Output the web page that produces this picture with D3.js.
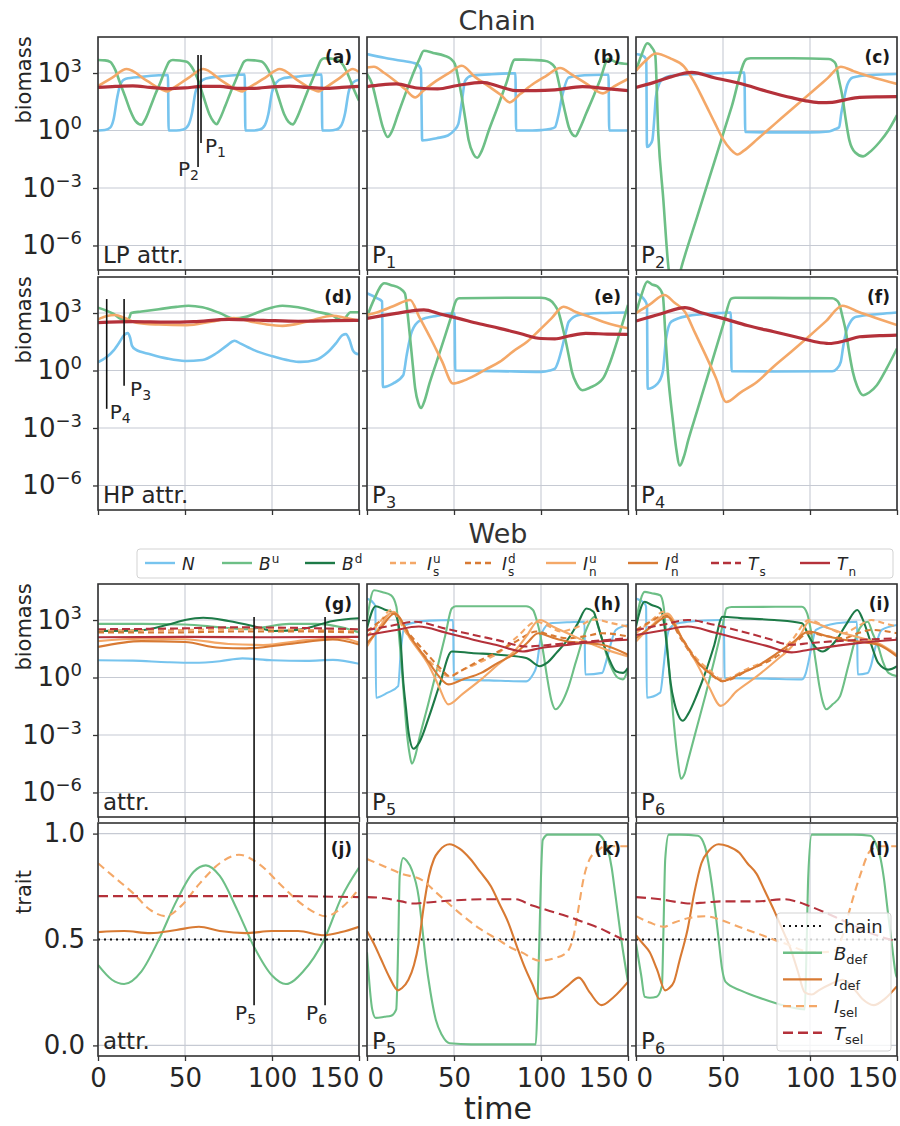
<!DOCTYPE html>
<html><head><meta charset="utf-8">
<script src="https://cdn.jsdelivr.net/npm/d3@7"></script>
<style>body{margin:0;background:#fff} svg{display:block;font-family:"DejaVu Sans",sans-serif}</style>
</head><body><svg id="c" width="900" height="1126"></svg>
<script>
// ---------- DATA (time, log10 biomass) ----------
const timeTicks = [0, 50, 100, 150];
const biomassTicks = [1e-6, 1e-3, 1e0, 1e3];
const traitTicks = [0, 0.5, 1.0];
const chainTrait = 0.5;

// (a) chain, LP attractor
const aN = [[0,0],[4,0.03],[7,0.15],[9,0.6],[11,1.7],[13,2.45],[16,2.7],[25,2.8],[35,2.88],[40.2,2.9],[40.6,0],[45,0],[49,0.05],[52,0.3],[54,0.9],[56,2.0],[58.5,2.5],[62,2.72],[70,2.82],[80,2.9],[84.3,2.92],[84.7,0],[89,0],[93,0.05],[96,0.3],[98,0.9],[100,2.0],[102.5,2.5],[106,2.72],[115,2.82],[124,2.9],[128.5,2.92],[128.9,0],[133,0],[137,0.05],[140,0.3],[142,0.9],[144,2.0],[146.5,2.5],[150,2.65]];
const aB = [[0,3.68],[4,3.66],[7,3.58],[10,3.15],[12.6,2.5],[15.5,1.8],[18.4,1.07],[21.5,0.5],[25,0.3],[27,0.55],[30,1.2],[33,1.9],[36,2.55],[39,3.25],[41,3.6],[43,3.68],[47,3.65],[51,3.59],[54,3.3],[57,2.75],[60.5,1.8],[64,0.85],[66.5,0.45],[68.2,0.33],[70,0.6],[73,1.25],[76,1.95],[79,2.6],[82,3.25],[84,3.6],[86,3.68],[90,3.66],[94,3.6],[97,3.3],[100,2.75],[103.5,1.8],[107,0.85],[109.5,0.45],[112,0.32],[114,0.6],[117,1.25],[120,1.95],[123,2.6],[126,3.25],[128,3.65],[130,3.77],[134,3.75],[138,3.68],[141,3.4],[144,2.85],[147,2.15],[150,1.55]];
const aI = [[0,2.32],[8,2.75],[16.5,3.21],[28,2.6],[37,2.12],[40,2.04],[43,2.2],[52,2.75],[60.5,3.21],[71,2.6],[80,2.12],[83,2.04],[86,2.2],[96,2.75],[104.5,3.21],[115,2.6],[124,2.12],[127,2.04],[130,2.2],[139,2.75],[146.5,3.21],[150,3.05]];
const aT = [[0,2.25],[10,2.3],[20,2.33],[30,2.25],[40,2.18],[50,2.22],[60,2.3],[70,2.3],[80,2.2],[90,2.2],[100,2.28],[110,2.32],[120,2.25],[130,2.2],[140,2.25],[150,2.3]];

// (b) chain, P1
const bN = [[0,3.99],[10,3.8],[20,3.64],[28.7,3.47],[31,3.2],[31.7,-0.52],[40,-0.4],[46.5,-0.26],[50,0.0],[52.5,0.35],[54.5,1.5],[56.4,2.6],[60,2.86],[70,2.93],[82,2.98],[85.3,2.98],[85.7,0],[95,0],[100,0.02],[105,0.08],[108,0.17],[110,0.8],[112,1.73],[116,2.77],[125,2.88],[135,2.91],[138.8,2.91],[139.2,0],[150,0]];
const bB = [[0,2.95],[3,2.4],[6,1.3],[9,0.2],[11.9,-0.34],[14,-0.1],[18,0.9],[22,1.9],[26,2.85],[30,3.7],[32.7,4.16],[38,4.05],[44.5,3.9],[48,3.75],[50.5,3.47],[52.5,2.7],[54.5,1.73],[56.5,0.6],[58.4,-0.5],[61,-1.2],[63.4,-1.42],[66,-1.05],[70,0.0],[75,1.2],[80,2.45],[85,3.7],[90,3.7],[96,3.68],[102,3.64],[105,3.55],[108,3.3],[110,2.6],[112,1.73],[114,0.9],[116,0.17],[118,-0.2],[119.8,-0.3],[122,0.05],[126,0.9],[130,1.75],[134,2.65],[138.6,3.73],[143.6,3.55],[150,3.47]];
const bI = [[0,3.29],[4,3.33],[10,3.0],[16,2.6],[22,2.15],[27.7,1.73],[32,2.05],[40,2.6],[47,3.0],[54.5,3.38],[62,2.8],[70,2.3],[77,1.85],[82,1.47],[88,1.9],[95,2.4],[103,2.85],[111,3.26],[118,2.9],[126,2.45],[135.6,1.94],[142,2.3],[150,2.69]];
const bT = [[0,2.29],[8,2.38],[16.8,2.43],[28.7,2.22],[40.6,2.17],[52,2.35],[66.3,2.51],[76,2.3],[86,2.08],[97,2.08],[108,2.12],[123.8,2.29],[136,2.2],[150,2.08]];

// (c) chain, P2
const cN = [[0,3.99],[4,3.9],[5.9,3.7],[6.3,-0.86],[8,-0.75],[9.4,-0.5],[10.5,0.6],[11.4,1.73],[12.8,2.3],[14.4,2.6],[20,2.85],[35,2.95],[50,3.0],[62.3,3.03],[62.8,-0.08],[80,-0.1],[100,-0.1],[110.8,-0.05],[114,0.05],[116.7,0.17],[118,0.9],[119.7,1.73],[121.5,2.4],[124.6,2.77],[135,2.9],[150,2.95]];
const cB = [[0,3.12],[3,3.9],[6.5,4.55],[9,4.35],[11,4.0],[12.8,-0.15],[15.7,-3.6],[18.6,-7.1],[22,-8.5],[26.2,-7.1],[35,-4.55],[45,-1.65],[55,1.25],[63.6,3.73],[66,3.77],[90,3.77],[110.8,3.73],[113,3.65],[114.8,3.47],[116.5,2.7],[118.7,1.73],[120.5,0.6],[122.6,-0.5],[126,-1.15],[130.5,-1.35],[134,-1.15],[140,-0.6],[145,0.0],[150,0.8]];
const cI = [[0,3.12],[5,3.6],[11.4,4.02],[20,3.75],[27.5,3.35],[33,2.6],[39,1.55],[45,0.45],[50,-0.45],[54,-0.95],[58.5,-1.25],[62,-1.05],[70,-0.43],[80,0.36],[90,1.15],[100,1.93],[110,2.72],[117.7,3.33],[125,3.1],[135,2.8],[150,2.43]];
const cT = [[0,2.25],[10,2.5],[20,2.8],[32,3.03],[45,2.75],[60,2.45],[75,2.05],[90,1.7],[99,1.53],[106,1.45],[112.8,1.47],[120,1.6],[128.5,1.73],[140,1.76],[150,1.77]];

// (d) chain, HP attractor
const dN = [[0,0.43],[5,0.7],[9,1.05],[12.5,1.5],[15,1.85],[17,1.95],[18.5,1.7],[19.5,1.3],[21.5,1.1],[30,0.85],[40,0.62],[50,0.5],[60,0.55],[68,0.9],[74,1.3],[78.5,1.55],[82,1.4],[90,1.05],[100,0.75],[110,0.52],[116.5,0.45],[125,0.55],[132,0.95],[137,1.45],[140.5,1.85],[142.5,1.9],[144.5,1.6],[146.5,1.05],[148,0.9],[150,0.85]];
const dB = [[0,3.28],[5,3.12],[9,2.95],[13,2.7],[16,2.62],[18,2.75],[19,3.0],[25,3.08],[35,3.2],[45,3.32],[52,3.38],[60,3.3],[70,3.0],[78,2.72],[85,2.8],[95,3.15],[106,3.38],[115,3.3],[125,3.08],[135,2.85],[139,2.65],[141,2.62],[143,2.85],[145,3.04],[150,3.04]];
const dI = [[0,2.67],[5,2.85],[10,2.9],[15,2.75],[22,2.5],[35,2.4],[51,2.36],[65,2.55],[78,2.74],[88,2.55],[97,2.4],[106,2.33],[120,2.55],[135,2.86],[142,2.75],[150,2.6]];
const dT = [[0,2.5],[20,2.55],[40,2.52],[55,2.55],[75,2.67],[95,2.62],[115,2.57],[135,2.6],[150,2.62]];

// (e) chain, P3
const eN = [[0,4.03],[5.9,3.77],[8.7,3.6],[9.1,-0.86],[14.9,-0.68],[20.8,-0.25],[22.8,0.8],[25.7,2.02],[30.7,2.63],[40,2.85],[50.3,2.98],[50.7,0],[75,-0.03],[100,-0.07],[105,0.0],[108,0.1],[110,0.5],[112,1.15],[114,1.9],[116,2.55],[121.8,2.9],[135,3.0],[150,3.03]];
const eB = [[0,2.81],[4,3.7],[9.9,4.55],[14,4.45],[18.8,4.29],[21.8,4.03],[23.3,3.0],[24.8,1.67],[26.3,0.3],[27.7,-0.94],[29.5,-1.7],[31.1,-1.96],[33,-1.6],[36,-0.65],[40,0.45],[45,1.85],[48,2.7],[51.5,3.7],[53,3.77],[80,3.8],[100,3.8],[105,3.68],[108,3.4],[110,3.07],[112,2.4],[113.9,1.67],[115.9,0.8],[117.8,-0.07],[120.5,-0.7],[123.8,-1.03],[128,-0.9],[135.6,-0.42],[140,0.5],[145,1.9],[150,3.42]];
const eI = [[0,2.9],[6.9,3.07],[15,3.35],[24.8,3.68],[30,2.8],[36.6,1.67],[43,0.5],[49.5,-0.68],[55,-0.55],[60.4,-0.33],[68,0.05],[76.2,0.45],[84,1.0],[92,1.5],[99,2.1],[106,2.72],[112.9,3.33],[120,3.05],[128,2.8],[135.6,2.55],[143,2.35],[150,2.2]];
const eT = [[0,2.72],[8,2.85],[16.8,2.98],[25,3.1],[32.7,3.16],[42,2.95],[52.5,2.72],[64,2.45],[76.2,2.2],[88,1.93],[100,1.67],[108,1.65],[116,1.8],[125.7,1.94],[138,1.9],[150,1.88]];

// (f) chain, P4
const fN = [[0,4.03],[5.5,3.6],[6.3,3.4],[6.7,-0.95],[12.4,-0.68],[15.4,-0.07],[17.3,1.67],[20.3,2.55],[30,2.85],[45,2.98],[54.5,3.03],[54.9,-0.04],[80,-0.05],[112.8,-0.04],[115.5,0.1],[117.7,0.45],[119,1.2],[120.7,2.0],[123,2.5],[126.6,2.8],[140,2.95],[150,3.03]];
const fB = [[0,3.0],[3,3.9],[6.5,4.64],[9,4.5],[12.4,4.38],[15.4,3.94],[16.8,2.0],[18.3,-0.07],[21.3,-2.69],[23,-4.0],[25.2,-4.96],[27.5,-4.5],[30,-3.65],[35,-2.15],[40,-0.65],[45,0.85],[50,2.35],[54.7,3.75],[57,3.8],[90,3.78],[112.8,3.77],[114.8,3.7],[116.7,3.5],[118.7,2.8],[120.7,2.0],[122.6,0.9],[124.6,-0.07],[127,-0.8],[130.5,-1.29],[134,-1.15],[138.4,-0.77],[144,0.1],[150,1.15]];
const fI = [[0,3.0],[8,3.45],[16.3,3.94],[22,3.55],[28.1,3.07],[34,1.95],[40,0.8],[46,-0.4],[51.8,-1.64],[60,-1.15],[69.5,-0.6],[79,0.2],[89.2,0.98],[99,1.75],[108.9,2.55],[118.7,3.38],[128,3.05],[140,2.68],[150,2.37]];
const fT = [[0,2.58],[14,2.95],[28.1,3.28],[38,3.0],[49.8,2.72],[64,2.35],[79.3,2.02],[92,1.75],[103,1.5],[110.8,1.41],[120,1.55],[128.5,1.76],[140,1.82],[150,1.85]];

// (g) web, attractor
const gN = [[0,0.9],[20,0.88],[40,0.8],[55,0.77],[70,0.85],[83,1.0],[100,0.9],[120,0.87],[135,0.92],[150,0.72]];
const gBu = [[0,2.8],[25,2.8],[50,2.77],[70,2.62],[85,2.52],[95,2.62],[110,2.8],[125,2.8],[140,2.62],[150,2.35]];
const gBd = [[0,2.43],[24,2.46],[40,2.75],[50,3.0],[60.5,3.12],[75,2.95],[89,2.69],[101,2.43],[116,2.5],[135,2.95],[150,3.09]];
const gIsu = [[0,2.45],[30,2.45],[60,2.5],[90,2.52],[120,2.48],[150,2.42]];
const gIsd = [[0,2.35],[40,2.35],[80,2.4],[120,2.4],[150,2.35]];
const gInu = [[0,1.9],[25,2.02],[50,2.0],[75,1.75],[95,1.7],[120,1.95],[140,2.05],[150,1.82]];
const gInd = [[0,1.6],[25,1.9],[50,1.85],[70,1.55],[85,1.52],[110,1.75],[135,1.98],[150,1.72]];
const gTs = [[0,2.52],[40,2.55],[80,2.62],[120,2.58],[150,2.52]];
const gTn = [[0,2.1],[50,2.12],[100,2.1],[150,2.12]];

// (h) web, P5
const hN = [[0,4.12],[4,3.86],[4.8,3.7],[5.2,-1.05],[11.9,-0.79],[17.9,-0.45],[19.5,1.45],[21.9,2.74],[35.8,2.97],[49.5,3.0],[49.9,-0.1],[70,-0.15],[91.5,-0.2],[95,0.1],[97.4,0.59],[100.4,2.31],[105.4,2.83],[115,2.88],[125,2.91],[125.4,0.16],[135.2,0.24],[137,0.7],[139.2,1.45],[143,2.48],[150,2.74]];
const hBu = [[0,3.0],[4,4.55],[9,4.45],[13.9,4.29],[16.9,3.69],[18.4,2.2],[19.9,0.59],[21.4,-1.2],[22.9,-2.86],[24.5,-4.0],[25.8,-4.5],[28,-4.0],[30,-3.2],[35,-1.45],[40,0.35],[45,2.2],[48.7,3.6],[51,3.72],[80,3.72],[91.5,3.72],[95.4,3.52],[97.5,3.0],[99.4,2.31],[101.5,1.2],[103.4,0.07],[106,-1.2],[108.3,-1.66],[112,-1.3],[115.3,-0.62],[120,0.8],[125.2,2.31],[128,2.9],[131,3.17],[133,2.6],[135.2,1.97],[138,1.1],[141,0.41],[144,0.0],[147.1,-0.1],[150,0.41]];
const hBd = [[0,2.57],[5,3.72],[10,3.55],[15.9,3.34],[18.9,2.31],[20.9,-0.28],[22.4,-1.6],[23.9,-2.86],[26.8,-3.72],[30,-3.4],[35.8,-2.0],[42,-0.3],[48.7,1.36],[60,1.28],[75.5,1.19],[91.5,1.02],[99.4,0.59],[103.4,0.76],[109,1.3],[115.3,1.97],[121,2.8],[126.2,3.6],[130.2,3.43],[132.5,2.8],[135.2,1.97],[139,1.0],[143,0.33],[147.1,0.24],[150,0.5]];
const hIsu = [[0,2.14],[7,2.85],[13.9,3.52],[22,2.4],[31.8,1.28],[40,0.5],[46.7,0.07],[55,0.4],[65,0.8],[75.5,1.28],[86,2.1],[97.4,2.91],[104,2.7],[111.3,2.4],[120,2.6],[131.2,3.03],[140,2.85],[150,2.66]];
const hIsd = [[0,2.4],[7,2.9],[14.9,3.34],[25,2.2],[35.8,1.1],[42,0.5],[47.7,0.07],[55,0.4],[65,0.9],[75.5,1.36],[86,1.9],[97.4,2.4],[106,2.2],[115.3,2.05],[125,2.15],[135.2,2.31],[150,2.14]];
const hInu = [[0,1.62],[7,2.6],[14.9,3.43],[25,2.0],[35.8,0.59],[41,-0.4],[46.7,-1.4],[55,-0.85],[65.6,-0.1],[75,0.65],[85.5,1.45],[92,2.2],[97.4,2.91],[99.4,3.0],[107,2.65],[115.3,2.31],[125,1.9],[135.2,1.53],[150,1.1]];
const hInd = [[0,1.79],[8,2.6],[15.9,3.34],[25,2.1],[35.8,0.76],[41,0.1],[46.7,-0.36],[55,-0.1],[65.6,0.24],[75,0.75],[85.5,1.28],[92,1.8],[98.4,2.31],[106,2.1],[115.3,1.88],[125,1.8],[135.2,1.71],[150,1.19]];
const hTs = [[0,2.48],[14,2.7],[27.8,2.91],[45,2.55],[60,2.25],[75,1.95],[91.5,1.62],[110,1.75],[130,1.9],[150,2.05]];
const hTn = [[0,2.22],[15,2.45],[29.8,2.66],[45,2.35],[60,2.0],[75,1.68],[89.5,1.36],[99.4,1.53],[115,1.7],[130,1.85],[150,1.97]];

// (i) web, P6
const iN = [[0,4.12],[5,3.86],[5.8,3.7],[6.2,-1.05],[13.9,-0.79],[15.9,0.59],[17.2,1.7],[18.9,2.48],[23,2.8],[29.8,2.91],[48.7,3.0],[50.5,3.0],[50.9,-0.02],[75,-0.06],[95.4,-0.1],[97.5,0.2],[99.4,0.93],[101.5,1.9],[103.4,2.48],[115.3,2.83],[127,2.91],[127.4,0.16],[133.2,0.24],[135,0.6],[137.2,1.45],[141.2,2.48],[150,2.74]];
const iBu = [[0,3.0],[5,4.47],[9,4.4],[13.9,4.29],[15.9,3.69],[17.4,2.2],[18.9,0.59],[20.4,-1.0],[21.9,-2.52],[24,-4.3],[25.8,-5.28],[28,-5.0],[30,-4.3],[35,-2.6],[40,-0.9],[45,0.9],[50,2.8],[52,3.6],[55,3.68],[80,3.69],[95.4,3.69],[98.4,3.34],[100,2.7],[101.4,1.97],[103.4,0.75],[105.4,-0.45],[107.4,-1.3],[109.3,-1.66],[113,-1.4],[117.3,-0.97],[122,0.6],[127.2,2.31],[130,2.75],[133.2,2.91],[136,2.3],[139.2,1.62],[142,0.8],[145.1,0.24],[150,0.07]];
const iBd = [[0,2.66],[5,3.95],[9,3.78],[13.9,3.6],[16.9,2.31],[18.4,1.0],[19.9,-0.28],[22,-1.3],[24,-1.9],[26.8,-2.26],[30,-1.9],[35,-0.9],[39.8,0.24],[45,1.7],[49.7,3.17],[60,3.1],[79.5,3.0],[95.4,2.83],[99.4,2.14],[103,1.6],[107.4,1.36],[111,1.55],[115.3,1.97],[121,2.8],[127.2,3.52],[130,3.1],[133.2,2.31],[136,1.5],[139.2,0.76],[145.1,0.41],[150,0.59]];
const iIsu = [[0,2.31],[8,2.9],[15.9,3.43],[25,2.25],[33.8,1.1],[42,0.4],[49.7,-0.1],[65,0.5],[79.5,1.1],[90,2.0],[99.4,3.0],[110,2.6],[119.3,2.31],[127,2.65],[135.2,3.0],[142,2.85],[150,2.66]];
const iIsd = [[0,2.48],[8,2.9],[16.9,3.26],[26,2.0],[34.8,0.84],[42,0.25],[49.7,-0.19],[65,0.4],[79.5,1.02],[90,1.7],[99.4,2.31],[110,2.15],[119.3,2.05],[127,2.3],[135.2,2.48],[150,2.31]];
const iInu = [[0,1.88],[9,2.7],[17.9,3.34],[27,1.95],[35.8,0.59],[42,-0.5],[48.7,-1.48],[58,-0.7],[69.6,0.07],[80,0.85],[89.5,1.62],[95,2.3],[99.4,2.91],[110,2.6],[119.3,2.31],[130,2.05],[139.2,1.79],[150,1.19]];
const iInd = [[0,2.05],[9,2.65],[17.9,3.17],[27,1.95],[35.8,0.76],[43,0.2],[49.7,-0.19],[60,0.2],[69.6,0.59],[80,1.2],[89.5,1.79],[99.4,2.4],[110,2.15],[119.3,1.97],[130,1.85],[139.2,1.71],[150,1.1]];
const iTs = [[0,2.48],[15,2.75],[29.8,3.0],[45,2.75],[60,2.42],[75,2.05],[89.5,1.71],[99.4,1.79],[115,1.9],[130,1.97],[150,2.05]];
const iTn = [[0,2.22],[15,2.45],[29.8,2.66],[45,2.35],[60,2.0],[75,1.65],[89.5,1.31],[99.4,1.45],[115,1.65],[130,1.82],[150,1.97]];

// (j) traits, attractor
const jBdef = [[0,0.38],[8,0.31],[15,0.29],[25,0.35],[35,0.5],[45,0.68],[55,0.82],[62,0.85],[70,0.8],[80,0.64],[90,0.46],[100,0.33],[108,0.29],[118,0.35],[130,0.5],[140,0.7],[150,0.84]];
const jIdef = [[0,0.535],[15,0.54],[30,0.53],[45,0.545],[58,0.56],[70,0.54],[85,0.53],[100,0.54],[115,0.54],[130,0.52],[140,0.535],[150,0.56]];
const jIsel = [[0,0.86],[10,0.79],[20,0.72],[30,0.64],[39,0.61],[48,0.66],[58,0.76],[70,0.86],[81,0.9],[92,0.86],[106,0.75],[120,0.65],[131,0.61],[140,0.65],[150,0.74]];
const jTsel = [[0,0.705],[50,0.705],[100,0.705],[150,0.70]];

// (k) traits, P5
const kBdef = [[0,0.44],[3,0.17],[5,0.13],[10,0.135],[13.9,0.14],[16.8,0.17],[18,0.5],[18.8,0.8],[20.8,0.885],[23,0.87],[25.7,0.83],[29.7,0.7],[31.7,0.56],[33.7,0.41],[36.5,0.25],[39.6,0.12],[43,0.05],[47.5,0.01],[60,0.005],[80,0.005],[97,0.005],[98,0.2],[99,0.48],[100,0.8],[101,0.97],[104,0.995],[120,0.995],[132.7,0.995],[136,0.97],[138.6,0.92],[140.6,0.84],[142.6,0.72],[146.5,0.48],[150,0.3]];
const kIdef = [[0,0.54],[4,0.48],[7.9,0.41],[13,0.32],[17.8,0.26],[20,0.27],[23.8,0.31],[27,0.38],[29.7,0.48],[32.5,0.65],[35.6,0.8],[38.5,0.88],[41.6,0.92],[47.5,0.95],[53,0.93],[59.4,0.88],[65,0.82],[71.3,0.75],[76,0.67],[81.2,0.58],[86,0.47],[91.1,0.36],[95,0.29],[99,0.22],[103,0.225],[107,0.23],[115,0.28],[121.8,0.32],[128,0.25],[134.7,0.19],[142,0.23],[150,0.3]];
const kIsel = [[0,0.88],[10,0.845],[20,0.81],[31.7,0.78],[40,0.72],[55.4,0.61],[65,0.55],[75.2,0.5],[83,0.46],[91.1,0.43],[95,0.41],[99,0.40],[107,0.41],[114.9,0.44],[117,0.47],[118.8,0.52],[121,0.62],[124.8,0.8],[128,0.88],[132.7,0.92],[136.6,0.94],[150,0.94]];
const kTsel = [[0,0.70],[10,0.695],[19.8,0.68],[26,0.67],[35,0.675],[50,0.685],[70,0.69],[85.1,0.69],[95,0.66],[105,0.635],[114.9,0.61],[125,0.58],[134.7,0.55],[142,0.52],[150,0.49]];

// (l) traits, P6
const lBdef = [[0,0.48],[3,0.33],[5,0.23],[8,0.225],[11.9,0.23],[14.9,0.28],[15.8,0.55],[16.8,0.88],[18.8,0.995],[25,0.995],[35.6,0.99],[39.6,0.94],[42.5,0.82],[45.5,0.64],[47.5,0.5],[49.5,0.36],[51.5,0.30],[60,0.26],[69.3,0.23],[80,0.2],[89.1,0.18],[97,0.17],[98,0.45],[99,0.8],[101,0.995],[110,0.995],[125,0.995],[134.7,0.99],[138,0.95],[140.6,0.88],[142.6,0.78],[144.6,0.64],[147,0.48],[149.5,0.33],[150,0.32]];
const lIdef = [[0,0.52],[4,0.48],[7.9,0.44],[12,0.36],[16.8,0.26],[19,0.27],[21.8,0.30],[25,0.4],[29.7,0.55],[33.5,0.72],[37.6,0.86],[42,0.92],[47.5,0.95],[53,0.94],[59.4,0.91],[64,0.86],[69.3,0.81],[74,0.73],[79.2,0.64],[84,0.55],[89.1,0.45],[93,0.35],[97,0.25],[101,0.24],[105,0.26],[112,0.29],[118.8,0.31],[125,0.27],[130,0.22],[136.6,0.19],[143,0.22],[150,0.28]];
const lIsel = [[0,0.61],[8,0.58],[15.8,0.56],[22,0.58],[29.7,0.60],[39.6,0.61],[49.5,0.59],[59,0.56],[69.3,0.53],[79,0.5],[89.1,0.47],[95,0.45],[99,0.44],[107,0.44],[114.9,0.45],[118.8,0.52],[122.8,0.64],[128.7,0.8],[134.7,0.92],[140,0.94],[150,0.94]];
const lTsel = [[0,0.70],[13.9,0.69],[25,0.675],[29.7,0.67],[40,0.675],[49.5,0.68],[69.3,0.68],[85.1,0.69],[92,0.68],[99,0.66],[108,0.63],[118.8,0.59],[127,0.56],[134.7,0.53],[142,0.51],[150,0.49]];

// marker lines: [time, top value, bottom value]
const markP1 = [59.2, 3.94, -0.65];
const markP2 = [57.5, 3.94, -1.9];
const markP3 = [15, 3.73, -0.8];
const markP4 = [5, 3.73, -2.0];
const markP5 = [89.7, 3.16, 0.19];
const markP6 = [130.5, 3.16, 0.19];

// ---------- STYLES ----------
const ST = {
  N:   {color:'#77c4ee'},
  Bu:  {color:'#6dbf86'},
  Bd:  {color:'#1d7a47'},
  Isu: {color:'#f4a868', dash:'6,4'},
  Isd: {color:'#d87a33', dash:'6,4'},
  Inu: {color:'#f4a868'},
  Ind: {color:'#d87a33'},
  Ts:  {color:'#b4313a', dash:'8,4'},
  Tn:  {color:'#b4313a'},
  chain:{color:'#111', dash:'2,4'},
  Bdef:{color:'#6dbf86'},
  Idef:{color:'#d87a33'},
  Isel:{color:'#f4a868', dash:'8,5'},
  Tsel:{color:'#b4313a', dash:'10,5'}
};

const svg = d3.select('#c');
const FONT = '"DejaVu Sans", sans-serif';
const colX = [98, 367, 636], colW = 261;
const rowY = [37, 277, 584, 823], rowH = 233;
const logDomain = [Math.pow(10,-7.28), Math.pow(10,4.88)];
const traitDomain = [-0.05, 1.05];

const panels = [
 {r:0,c:0,kind:'log',letter:'(a)',lab:['LP attr.'],w:2.6,series:[['N',aN],['Bu',aB],['Inu',aI],['Tn',aT,3.2]]},
 {r:0,c:1,kind:'log',letter:'(b)',lab:['P','1'],w:2.6,series:[['N',bN],['Bu',bB],['Inu',bI],['Tn',bT,3.2]]},
 {r:0,c:2,kind:'log',letter:'(c)',lab:['P','2'],w:2.6,series:[['N',cN],['Bu',cB],['Inu',cI],['Tn',cT,3.2]]},
 {r:1,c:0,kind:'log',letter:'(d)',lab:['HP attr.'],w:2.6,series:[['N',dN],['Bu',dB],['Inu',dI],['Tn',dT,3.2]]},
 {r:1,c:1,kind:'log',letter:'(e)',lab:['P','3'],w:2.6,series:[['N',eN],['Bu',eB],['Inu',eI],['Tn',eT,3.2]]},
 {r:1,c:2,kind:'log',letter:'(f)',lab:['P','4'],w:2.6,series:[['N',fN],['Bu',fB],['Inu',fI],['Tn',fT,3.2]]},
 {r:2,c:0,kind:'log',letter:'(g)',lab:['attr.'],w:2.1,series:[['N',gN],['Bu',gBu],['Bd',gBd],['Isu',gIsu],['Isd',gIsd],['Inu',gInu],['Ind',gInd],['Ts',gTs],['Tn',gTn]]},
 {r:2,c:1,kind:'log',letter:'(h)',lab:['P','5'],w:2.1,series:[['N',hN],['Bu',hBu],['Bd',hBd],['Isu',hIsu],['Isd',hIsd],['Inu',hInu],['Ind',hInd],['Ts',hTs],['Tn',hTn]]},
 {r:2,c:2,kind:'log',letter:'(i)',lab:['P','6'],w:2.1,series:[['N',iN],['Bu',iBu],['Bd',iBd],['Isu',iIsu],['Isd',iIsd],['Inu',iInu],['Ind',iInd],['Ts',iTs],['Tn',iTn]]},
 {r:3,c:0,kind:'trait',letter:'(j)',lab:['attr.'],w:2.1,series:[['Bdef',jBdef],['Idef',jIdef],['Isel',jIsel],['Tsel',jTsel]]},
 {r:3,c:1,kind:'trait',letter:'(k)',lab:['P','5'],w:2.1,series:[['Bdef',kBdef],['Idef',kIdef],['Isel',kIsel],['Tsel',kTsel]]},
 {r:3,c:2,kind:'trait',letter:'(l)',lab:['P','6'],w:2.1,series:[['Bdef',lBdef],['Idef',lIdef],['Isel',lIsel],['Tsel',lTsel]]}
];

const defs = svg.append('defs');

panels.forEach((p,i)=>{
  const x0 = colX[p.c], y0 = rowY[p.r];
  p.x = d3.scaleLinear().domain([0,150]).range([x0, x0+colW]);
  p.y = p.kind==='log' ? d3.scaleLog().domain(logDomain).range([y0+rowH, y0])
                       : d3.scaleLinear().domain(traitDomain).range([y0+rowH, y0]);
  const yv = p.kind==='log' ? (v=>p.y(Math.pow(10,v))) : (v=>p.y(v));
  p.yv = yv;
  defs.append('clipPath').attr('id','cl'+i).append('rect')
    .attr('x',x0).attr('y',y0).attr('width',colW).attr('height',rowH);
  const g = svg.append('g');
  // grid
  const yt = p.kind==='log' ? biomassTicks : traitTicks;
  g.selectAll('.gx').data(timeTicks).enter().append('line')
    .attr('x1',d=>p.x(d)).attr('x2',d=>p.x(d)).attr('y1',y0).attr('y2',y0+rowH)
    .attr('stroke','#c6cad3').attr('stroke-width',1.1);
  g.selectAll('.gy').data(yt).enter().append('line')
    .attr('x1',x0).attr('x2',x0+colW).attr('y1',d=>p.y(d)).attr('y2',d=>p.y(d))
    .attr('stroke','#c6cad3').attr('stroke-width',1.1);
  // series
  const lg = g.append('g').attr('clip-path',`url(#cl${i})`);
  if (p.kind==='trait') {
    lg.append('line').attr('x1',p.x(0)).attr('x2',p.x(150)).attr('y1',p.y(chainTrait)).attr('y2',p.y(chainTrait))
      .attr('stroke',ST.chain.color).attr('stroke-width',2).attr('stroke-dasharray',ST.chain.dash);
  }
  const line = d3.line().x(d=>p.x(d[0])).y(d=>yv(d[1])).curve(d3.curveMonotoneX);
  p.series.forEach(s=>{
    const st = ST[s[0]];
    lg.append('path').attr('d',line(s[1])).attr('fill','none')
      .attr('stroke',st.color).attr('stroke-width',s[2]||p.w)
      .attr('stroke-dasharray',st.dash||null).attr('stroke-linejoin','round');
  });
  // frame
  g.append('rect').attr('x',x0).attr('y',y0).attr('width',colW).attr('height',rowH)
    .attr('fill','none').attr('stroke','#333').attr('stroke-width',1.6);
  // y axis
  const ay = g.append('g').attr('transform',`translate(${x0},0)`)
    .call(d3.axisLeft(p.y).tickValues(yt).tickSize(5).tickSizeOuter(0)
      .tickPadding(p.kind==='log'?11:8)
      .tickFormat(p.c===0 ? (p.kind==='log' ? ()=>'' : d3.format('.1f')) : ()=>''));
  ay.attr('font-size',26).attr('font-family',FONT);
  ay.select('.domain').remove();
  ay.selectAll('.tick line').attr('stroke','#333').attr('stroke-width',1.3);
  ay.selectAll('.tick text').attr('fill','#262626');
  if (p.c===0 && p.kind==='log') {
    ay.selectAll('.tick text').each(function(d){
      const e = Math.round(Math.log10(d));
      const t = d3.select(this);
      t.append('tspan').text('10');
      t.append('tspan').attr('dy','-0.55em').attr('font-size',18).text(e<0 ? '\u2212'+(-e) : String(e));
    });
  }
  // x axis
  const ax = g.append('g').attr('transform',`translate(0,${y0+rowH})`)
    .call(d3.axisBottom(p.x).tickValues(timeTicks).tickSize(5).tickSizeOuter(0).tickPadding(8)
      .tickFormat(p.r===3 ? d3.format('d') : ()=>''));
  ax.attr('font-size',26).attr('font-family',FONT);
  ax.select('.domain').remove();
  ax.selectAll('.tick line').attr('stroke','#333').attr('stroke-width',1.3);
  ax.selectAll('.tick text').attr('fill','#262626')
    .attr('text-anchor',d=> d===150 ? 'end' : (d===0 && p.c>0 ? 'start' : 'middle'));
  // panel letter
  g.append('text').attr('x',x0+colW-7).attr('y',y0+(p.r===3?32:26)).attr('text-anchor','end')
    .attr('font-size',17).attr('font-weight','bold').attr('fill','#1a1a1a').attr('font-family',FONT).text(p.letter);
  // bottom-left label
  const tl = g.append('text').attr('x',x0+5).attr('y',y0+rowH-7).attr('font-size',23)
    .attr('fill','#262626').attr('font-family',FONT);
  tl.append('tspan').text(p.lab[0]);
  if (p.lab[1]) tl.append('tspan').attr('dy',5).attr('font-size',16).text(p.lab[1]);
});

// ---------- marker lines ----------
function mark(pan, m, name, lx, ly, panBottom){
  const pb = panBottom || pan;
  const x = pan.x(m[0]);
  svg.append('line').attr('x1',x).attr('x2',x).attr('y1',pan.yv(m[1])).attr('y2',pb.yv(m[2]))
    .attr('stroke','#111').attr('stroke-width',1.6);
  const t = svg.append('text').attr('x',x+lx).attr('y',ly).attr('font-size',20).attr('fill','#262626').attr('font-family',FONT);
  t.append('tspan').text('P');
  t.append('tspan').attr('dy',4).attr('font-size',14).text(name);
}
const pa = panels[0], pd = panels[3], pg = panels[6], pj = panels[9];
mark(pa, markP2, '2', -20, 176);
mark(pa, markP1, '1', 4, 153);
mark(pd, markP4, '4', 3, 419);
mark(pd, markP3, '3', 6, 396);
mark(pg, markP5, '5', -19, 1020, pj);
mark(pg, markP6, '6', -19, 1020, pj);

// ---------- titles & labels ----------
svg.append('text').attr('x',497).attr('y',30).attr('text-anchor','middle').attr('font-size',27)
  .attr('fill','#333').attr('font-family',FONT).text('Chain');
svg.append('text').attr('x',498).attr('y',543).attr('text-anchor','middle').attr('font-size',27)
  .attr('fill','#333').attr('font-family',FONT).text('Web');
[[0,'biomass'],[1,'biomass'],[2,'biomass']].forEach(([r,t])=>{
  svg.append('text').attr('transform',`translate(31,${rowY[r]+43}) rotate(-90)`).attr('text-anchor','middle')
    .attr('font-size',21).attr('fill','#262626').attr('font-family',FONT).text(t);
});
svg.append('text').attr('transform',`translate(31,892) rotate(-90)`).attr('text-anchor','middle')
  .attr('font-size',21).attr('fill','#262626').attr('font-family',FONT).text('trait');
svg.append('text').attr('x',498).attr('y',1119).attr('text-anchor','middle').attr('font-size',30)
  .attr('fill','#262626').attr('font-family',FONT).text('time');

// ---------- top legend ----------
const legItems = [
 {k:'N',base:'N',x:145},{k:'Bu',base:'B',sup:'u',x:222},{k:'Bd',base:'B',sup:'d',x:305},
 {k:'Isu',base:'I',sup:'u',sub:'s',x:390},{k:'Isd',base:'I',sup:'d',sub:'s',x:465},
 {k:'Inu',base:'I',sup:'u',sub:'n',x:546},{k:'Ind',base:'I',sup:'d',sub:'n',x:628},
 {k:'Ts',base:'T',sub:'s',x:711},{k:'Tn',base:'T',sub:'n',x:800}
];
svg.append('rect').attr('x',137).attr('y',549).attr('width',756).attr('height',29).attr('rx',3)
  .attr('fill','#fff').attr('stroke','#d3d3d3').attr('stroke-width',1);
legItems.forEach(it=>{
  const st = ST[it.k];
  svg.append('line').attr('x1',it.x).attr('x2',it.x+30).attr('y1',563).attr('y2',563)
    .attr('stroke',st.color).attr('stroke-width',2.4).attr('stroke-dasharray',st.dash||null);
  const b = svg.append('text').attr('x',it.x+37).attr('y',570).attr('font-size',17).attr('font-style','italic')
    .attr('fill','#262626').attr('font-family',FONT).text(it.base);
  const w = b.node().getComputedTextLength();
  if (it.sup) svg.append('text').attr('x',it.x+38+w).attr('y',563).attr('font-size',12)
    .attr('fill','#262626').attr('font-family',FONT).text(it.sup);
  if (it.sub) svg.append('text').attr('x',it.x+38+w).attr('y',576).attr('font-size',12)
    .attr('fill','#262626').attr('font-family',FONT).text(it.sub);
});

// ---------- trait legend in (l) ----------
const tLeg = [
 {k:'chain',base:'chain',it:false},{k:'Bdef',base:'B',sub:'def',it:true},{k:'Idef',base:'I',sub:'def',it:true},
 {k:'Isel',base:'I',sub:'sel',it:true},{k:'Tsel',base:'T',sub:'sel',it:true}
];
svg.append('rect').attr('x',777).attr('y',913).attr('width',114).attr('height',138).attr('rx',3)
  .attr('fill','#fff').attr('fill-opacity',0.8).attr('stroke','#d3d3d3').attr('stroke-width',1);
tLeg.forEach((it,i)=>{
  const st = ST[it.k];
  const yy = 926 + i*26.7;
  svg.append('line').attr('x1',783).attr('x2',822).attr('y1',yy).attr('y2',yy)
    .attr('stroke',st.color).attr('stroke-width',it.k==='chain'?2:2.4).attr('stroke-dasharray',st.dash||null);
  const t = svg.append('text').attr('x',834).attr('y',yy+7).attr('font-size',18).attr('fill','#262626').attr('font-family',FONT);
  t.append('tspan').attr('font-style',it.it?'italic':'normal').text(it.base);
  if (it.sub) t.append('tspan').attr('dy',4).attr('font-size',13).text(it.sub);
});
</script></body></html>
